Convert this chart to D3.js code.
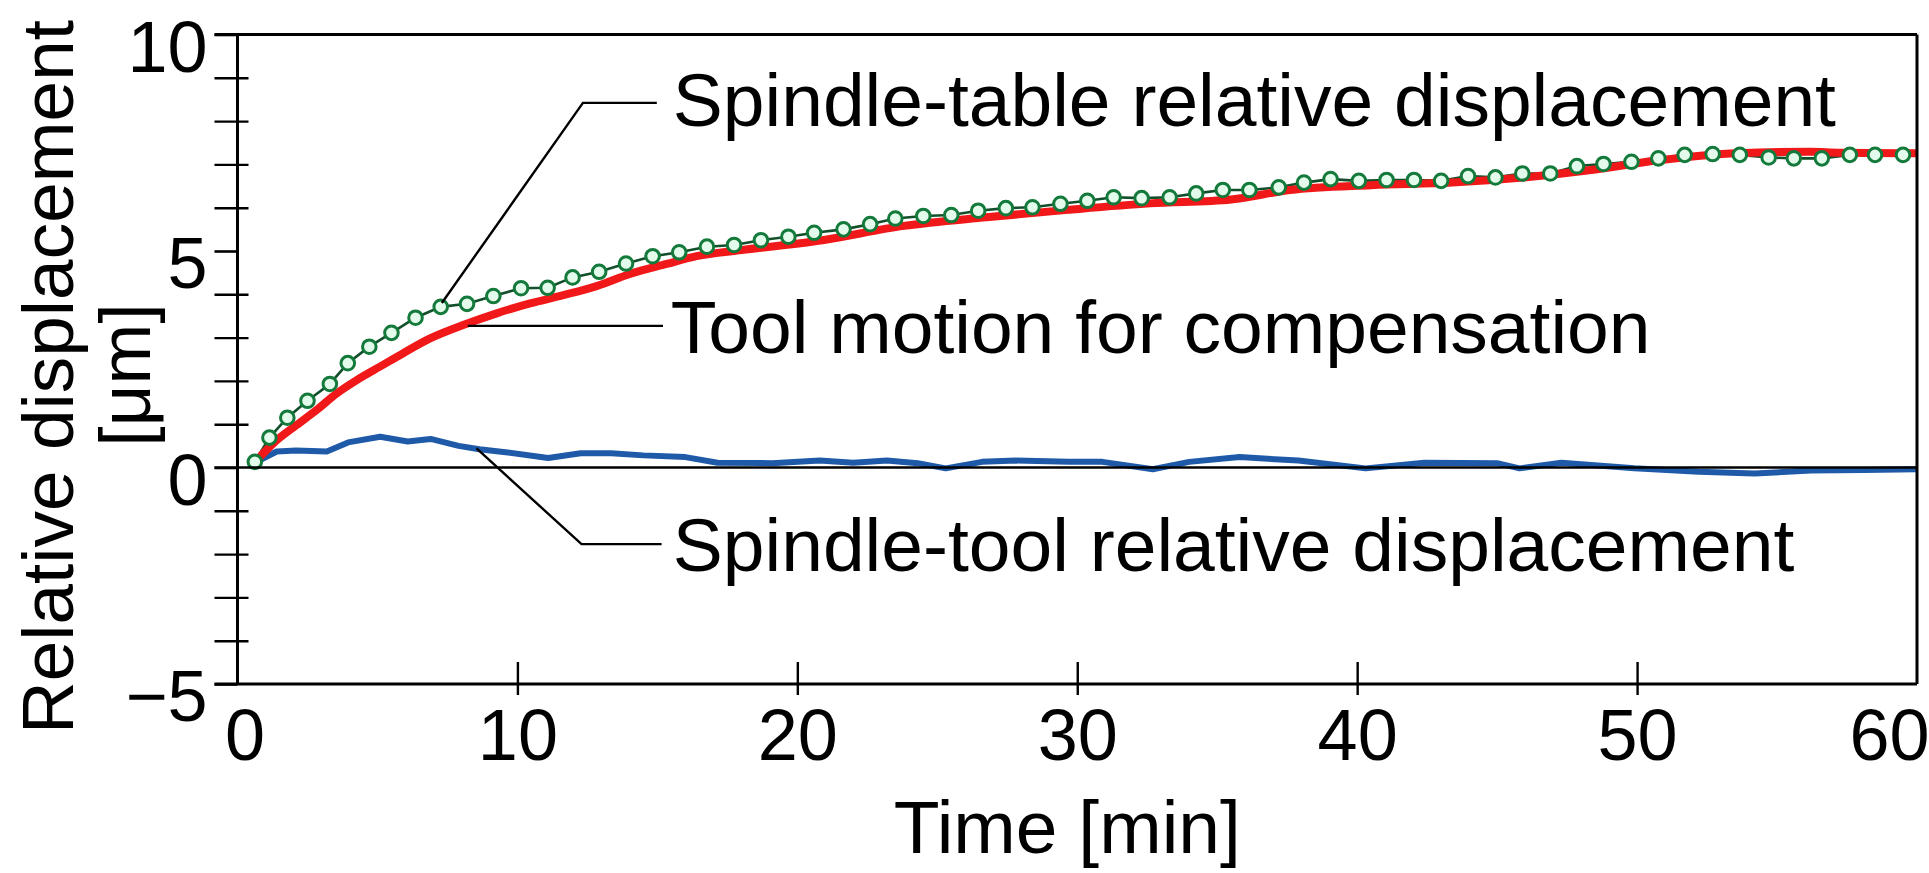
<!DOCTYPE html>
<html>
<head>
<meta charset="utf-8">
<script src="https://cdn.jsdelivr.net/npm/d3@7"></script>
<style>
    body { margin: 0; background: #fff; }
    svg text { font-family: "Liberation Sans", Arial, sans-serif; fill: #000; }
</style>
</head>
<body>
<div id="chart"></div>
<script>
// spindle-table relative displacement (circles), [time min, disp um]
const spindleTable = [
    [0.62, 0.13], [1.14, 0.69], [1.78, 1.15], [2.50, 1.54], [3.30, 1.93], [3.94, 2.41],
    [4.71, 2.79], [5.50, 3.11], [6.36, 3.46], [7.26, 3.71], [8.20, 3.78], [9.14, 3.96],
    [10.13, 4.14], [11.08, 4.15], [11.97, 4.39], [12.92, 4.52], [13.88, 4.71], [14.83, 4.88],
    [15.78, 4.97], [16.77, 5.10], [17.74, 5.14], [18.70, 5.25], [19.68, 5.33], [20.60, 5.42],
    [21.65, 5.50], [22.60, 5.62], [23.50, 5.75], [24.50, 5.81], [25.50, 5.83], [26.46, 5.93],
    [27.45, 5.99], [28.40, 6.01], [29.40, 6.09], [30.36, 6.16], [31.30, 6.24], [32.30, 6.22],
    [33.30, 6.24], [34.25, 6.33], [35.20, 6.41], [36.15, 6.41], [37.20, 6.47], [38.10, 6.58],
    [39.05, 6.66], [40.06, 6.62], [41.05, 6.64], [42.03, 6.64], [43.00, 6.62], [43.96, 6.73],
    [44.94, 6.70], [45.90, 6.79], [46.90, 6.79], [47.85, 6.96], [48.80, 7.01], [49.80, 7.06],
    [50.76, 7.14], [51.70, 7.22], [52.70, 7.24], [53.67, 7.22], [54.70, 7.16], [55.60, 7.14],
    [56.60, 7.14], [57.60, 7.22], [58.50, 7.22], [59.50, 7.22]
];

// tool motion for compensation (red)
const toolMotion = [
    [0.6, 0.10], [1.28, 0.56], [2.11, 0.98], [2.83, 1.33], [3.54, 1.71], [4.26, 2.02],
    [5.09, 2.33], [5.92, 2.64], [6.88, 2.98], [8.06, 3.29], [9.26, 3.56], [10.45, 3.79],
    [11.64, 3.98], [12.83, 4.19], [14.02, 4.47], [15.33, 4.70], [16.4, 4.88], [18.0, 5.02],
    [20.9, 5.25], [23.8, 5.58], [26.75, 5.78], [29.66, 5.95], [32.6, 6.10], [35.5, 6.19],
    [37.6, 6.41], [40.5, 6.52], [43.4, 6.58], [46.3, 6.72], [48.36, 6.87], [50.7, 7.09],
    [53.6, 7.26], [56.2, 7.29], [57.2, 7.27], [59.4, 7.26], [60, 7.26]
];

// spindle-tool relative displacement (blue)
const spindleTool = [
    [0.6, 0.10], [1.4, 0.37], [2.1, 0.39], [3.19, 0.37], [3.95, 0.58], [5.1, 0.71],
    [6.08, 0.60], [6.9, 0.66], [7.9, 0.50], [8.64, 0.42], [9.5, 0.36], [11.1, 0.22],
    [12.26, 0.33], [13.35, 0.33], [14.5, 0.28], [16.0, 0.24], [17.15, 0.11], [19.1, 0.10],
    [20.8, 0.16], [22.0, 0.11], [23.2, 0.16], [24.3, 0.10], [25.3, -0.02], [26.6, 0.13],
    [27.8, 0.16], [29.7, 0.13], [30.9, 0.13], [32.7, -0.04], [34.0, 0.13], [35.8, 0.24],
    [37.9, 0.16], [40.3, -0.02], [42.4, 0.11], [45.0, 0.10], [45.8, -0.02], [47.3, 0.11],
    [49.9, -0.02], [52.2, -0.10], [54.2, -0.14], [56.2, -0.07], [58.1, -0.06], [60.0, -0.04]
];

const xTicks = [0, 10, 20, 30, 40, 50, 60];
const yMajor = [-5, 0, 5, 10];
const yMinor = [-4, -3, -2, -1, 1, 2, 3, 4, 6, 7, 8, 9];

// annotation labels: leader path points in data units, text anchor
const notes = [
    { text: 'Spindle-table relative displacement', path: [[7.3, 3.80], [12.34, 8.42], [14.98, 8.42]], at: [15.55, 7.89] },
    { text: 'Tool motion for compensation', path: [[8.23, 3.27], [15.2, 3.27]], at: [15.48, 2.64] },
    { text: 'Spindle-tool relative displacement', path: [[8.54, 0.44], [12.29, -1.77], [15.15, -1.77]], at: [15.55, -2.39] }
];

const W = 1929, H = 873;
const svg = d3.select('#chart').append('svg').attr('width', W).attr('height', H);
svg.append('rect').attr('width', W).attr('height', H).attr('fill', '#fff');

const x = d3.scaleLinear().domain([0, 60]).range([237.5, 1917]);
const y = d3.scaleLinear().domain([-5, 10]).range([684, 34.5]);
const x0 = x(0), x1 = x(60), yTop = y(10), yBot = y(-5);

const line = d3.line().x(d => x(d[0])).y(d => y(d[1]));

// curves
svg.append('path').datum(spindleTool).attr('d', line)
    .attr('fill', 'none').attr('stroke', '#1f5aa8').attr('stroke-width', 6).attr('stroke-linejoin', 'round');

svg.append('path').datum(spindleTable).attr('d', line)
    .attr('fill', 'none').attr('stroke', '#124f2a').attr('stroke-width', 2.6);

svg.append('path').datum(toolMotion).attr('d', d3.line().curve(d3.curveMonotoneX).x(d => x(d[0])).y(d => y(d[1])))
    .attr('fill', 'none').attr('stroke', '#f01818').attr('stroke-width', 8).attr('stroke-linejoin', 'round');

svg.selectAll('.dot').data(spindleTable).enter().append('circle')
    .attr('class', 'dot')
    .attr('cx', d => x(d[0])).attr('cy', d => y(d[1]))
    .attr('r', 6.8)
    .attr('fill', '#e2fbea').attr('stroke', '#137a3b').attr('stroke-width', 3);

// frame and zero line
const frame = svg.append('g').attr('stroke', '#000').attr('stroke-width', 3).attr('fill', 'none');
frame.append('line').attr('x1', x0 - 23).attr('x2', x1).attr('y1', yTop).attr('y2', yTop);
frame.append('line').attr('x1', x0 - 23).attr('x2', x1).attr('y1', yBot).attr('y2', yBot);
frame.append('line').attr('x1', x0 - 23).attr('x2', x1).attr('y1', y(0)).attr('y2', y(0)).attr('stroke-width', 2.6);
frame.append('line').attr('x1', x0).attr('x2', x0).attr('y1', yTop).attr('y2', yBot);
frame.append('line').attr('x1', x1).attr('x2', x1).attr('y1', yTop).attr('y2', yBot);

// y axis
const yAxis = svg.append('g').attr('transform', `translate(${x0},0)`)
    .call(d3.axisLeft(y).tickValues(yMajor).tickSize(23).tickSizeOuter(0).tickPadding(7)
        .tickFormat(d => d < 0 ? '\u2212' + Math.abs(d) : d));
yAxis.select('.domain').remove();
yAxis.selectAll('line').attr('stroke', '#000').attr('stroke-width', 2.6);
yAxis.selectAll('text').attr('font-size', 72).attr('dy', '0.51em').style('font-family', '"Liberation Sans", Arial, sans-serif');

const yMinorAxis = svg.append('g').attr('transform', `translate(${x0 + 11},0)`)
    .call(d3.axisLeft(y).tickValues(yMinor).tickSize(34).tickSizeOuter(0).tickFormat(''));
yMinorAxis.select('.domain').remove();
yMinorAxis.selectAll('line').attr('stroke', '#000').attr('stroke-width', 2.4);

// x axis
const xAxis = svg.append('g').attr('transform', `translate(0,${yBot - 22})`)
    .call(d3.axisBottom(x).tickValues(xTicks.slice(1, -1)).tickSize(33).tickSizeOuter(0).tickFormat(''));
xAxis.select('.domain').remove();
xAxis.selectAll('line').attr('stroke', '#000').attr('stroke-width', 2.4);

const xLabels = svg.append('g').attr('transform', `translate(0,${yBot})`)
    .call(d3.axisBottom(x).tickValues(xTicks).tickSize(0).tickSizeOuter(0).tickPadding(25));
xLabels.select('.domain').remove();
xLabels.selectAll('text').attr('font-size', 72).style('font-family', '"Liberation Sans", Arial, sans-serif')
    .attr('dx', d => d === 0 ? 7 : (d === 60 ? -28 : 0));

// axis titles
svg.append('text').attr('x', (x0 + x1) / 2 - 10).attr('y', 853)
    .attr('text-anchor', 'middle').attr('font-size', 75).text('Time [min]');

svg.append('text').attr('transform', 'translate(73,377) rotate(-90)')
    .attr('text-anchor', 'middle').attr('font-size', 73).text('Relative displacement');
svg.append('text').attr('transform', 'translate(150,375) rotate(-90)')
    .attr('text-anchor', 'middle').attr('font-size', 73).text('[\u03bcm]');

// annotations
notes.forEach(n => {
    svg.append('path').datum(n.path).attr('d', line)
        .attr('fill', 'none').attr('stroke', '#000').attr('stroke-width', 2.4);
    svg.append('text').attr('x', x(n.at[0])).attr('y', y(n.at[1]))
        .attr('font-size', 75).text(n.text);
});
</script>
</body>
</html>
